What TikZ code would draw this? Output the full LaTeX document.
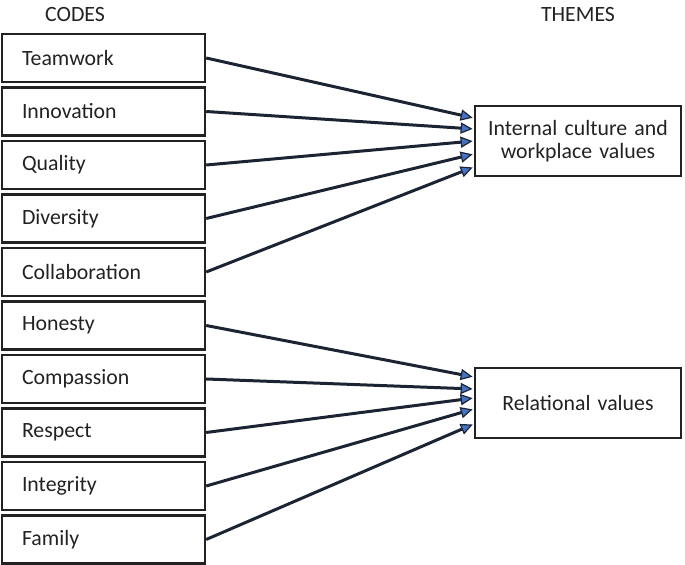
\documentclass[tikz,border=0pt]{standalone}
\usepackage{fontspec}
\setmainfont{Carlito}
\usetikzlibrary{arrows.meta}
\definecolor{linkcol}{HTML}{1C2433}
\definecolor{tipcol}{HTML}{4472C4}
\definecolor{txtcol}{HTML}{222222}
\tikzset{
  code/.style={draw=txtcol, line width=1.2pt, text=txtcol, minimum height=24pt,
    text width=81.5pt, inner xsep=10pt, align=left},
  theme/.style={draw=txtcol, line width=1.2pt, text=txtcol, minimum height=35pt,
    text width=93pt, inner xsep=5pt, align=center},
  head/.style={text=txtcol},
  link/.style={draw=linkcol, line width=1.5pt, shorten >=0.6pt,
    -{Triangle[length=6pt,width=5.6pt,fill=tipcol,line width=0.6pt]}},
}
\begin{document}
\begin{tikzpicture}[x=0.5pt, y=-0.5pt, font=\fontsize{10.9}{11.6}\selectfont]
    \useasboundingbox (0,0) rectangle (685,565);
    % Headers
    \node[head] (hcodes) at (75, 15) {CODES};
    \node[head] (hthemes) at (578, 15) {THEMES};

    % Codes
    \foreach \lbl [count=\i] in {Teamwork,Innovation,Quality,Diversity,Collaboration,Honesty,Compassion,Respect,Integrity,Family}
    {\node[code] (c\i) at (103.5, 4.5+53.5*\i) {\lbl};}

    % Themes
    \node[theme] (t1) at (578, 141) {Internal culture and\\workplace values};
    \node[theme] (t2) at (578, 403) {Relational values};

    % Links
    \foreach \i/\dy in {1/11.5,2/6,3/0,4/-6.5,5/-13}
    {\draw[link] (c\i.east) -- ([yshift=\dy pt]t1.west);}
    \foreach \i/\dy in {6/13,7/7,8/2.5,9/-3,10/-10.5}
    {\draw[link] (c\i.east) -- ([yshift=\dy pt]t2.west);}
\end{tikzpicture}
\end{document}
